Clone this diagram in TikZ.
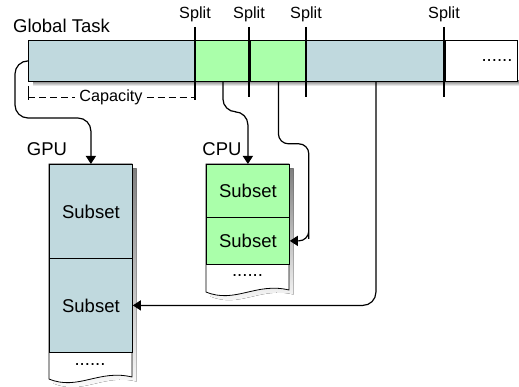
\documentclass[tikz,border=0pt]{standalone}
\usepackage{fontspec}
\setmainfont{Liberation Sans}
\usetikzlibrary{arrows.meta,calc}
\definecolor{taskblue}{HTML}{C0D9DE}
\definecolor{taskgreen}{HTML}{AAFFAA}
\definecolor{shade}{HTML}{5C5C5C}
\begin{document}
\begin{tikzpicture}[x=1pt,y=-1pt,
  seg/.style={draw=black, line width=0.8pt, minimum height=41pt, inner sep=0pt, anchor=north west},
  sub/.style={draw=black, line width=0.8pt, inner sep=0pt, anchor=north west, minimum width=83pt,
              font=\fontsize{18.5}{21}\selectfont},
  lbl/.style={inner sep=0pt, font=\fontsize{18.5}{21}\selectfont},
  small/.style={inner sep=0pt, font=\fontsize{16.2}{19}\selectfont},
  splitline/.style={line width=1.3pt},
  conn/.style={line width=1.2pt, rounded corners=13pt, -{Triangle[width=10pt,length=8pt]}},
  doc/.style={draw=black, line width=0.8pt, fill=white}]
\useasboundingbox (0,0) rectangle (519,387);

% global task bar with its drop shadow
\fill[shade] (33,81) rectangle (519,86);
\node[seg, fill=taskblue,  minimum width=167pt] (s1) at (28,40) {};
\node[seg, fill=taskgreen, minimum width=55pt]  (s2) at (195,40) {};
\node[seg, fill=taskgreen, minimum width=56pt]  (s3) at (250,40) {};
\node[seg, fill=taskblue,  minimum width=139pt] (s4) at (306,40) {};
\node[seg, fill=white,     minimum width=72pt]  (s5) at (445,40) {};
\node[lbl] (more) at (497,61) {......};
\node[lbl, anchor=base] (title) at (61.5,33) {Global Task};

% split markers
\foreach \n/\x in {1/195,2/249,3/306,4/444}{
  \draw[splitline] (\x,27) -- (\x,97);
  \node[small, anchor=base] (sp\n) at (\x,19) {Split};
}
\draw[splitline] (195,97) -- (195,100);

% capacity span
\node[small] (cap) at (111,97) {Capacity};
\draw[line width=0.8pt] (28,86) -- (28,100);
\draw[line width=0.8pt, dash pattern=on 7pt off 4pt] (28,97) -- ($(cap.west)+(-4,0)$);
\draw[line width=0.8pt, dash pattern=on 7pt off 4pt] ($(cap.east)+(4,0)$) -- (195,97);

% GPU queue
\fill[shade, shift={(4.5,4.5)}] (49,164) -- (132,164) -- (132,377)
   .. controls (99,369) and (78,391) .. (49,379) -- cycle;
\draw[doc] (49,164) -- (132,164) -- (132,377)
   .. controls (99,369) and (78,391) .. (49,379) -- cycle;
\node[sub, fill=taskblue, minimum height=94pt] (g1) at (49,164) {Subset};
\node[sub, fill=taskblue, minimum height=94pt] (g2) at (49,258) {Subset};
\node[lbl] (gmore) at (90,365) {......};
\node[lbl, anchor=base] (gpu) at (47,156) {GPU};

% CPU queue
\fill[shade, shift={(4.5,4.5)}] (206,164) -- (289,164) -- (289,290)
   .. controls (256,282) and (235,304) .. (206,292) -- cycle;
\draw[doc] (206,164) -- (289,164) -- (289,290)
   .. controls (256,282) and (235,304) .. (206,292) -- cycle;
\node[sub, fill=taskgreen, minimum height=53pt] (c1) at (206,164) {Subset};
\node[sub, fill=taskgreen, minimum height=47pt] (c2) at (206,217) {Subset};
\node[lbl] (cmore) at (247.5,276) {......};
\node[lbl, anchor=base] (cpu) at (222,156) {CPU};

% dispatch connectors
\draw[conn] (s1.west) -- ++(-13,0) |- ($(g1.north)+(0,-46)$) -- (g1.north);
\draw[conn] (s2.south) -- ++(0,30) -| (c1.north);
\draw[conn, rounded corners=10pt] (s3.south) -- ++(0,62) -| ($(c2.east)+(19,-12)$) |- (c2.east);
\draw[conn] (s4.south) |- (g2.east);
\end{tikzpicture}
\end{document}
